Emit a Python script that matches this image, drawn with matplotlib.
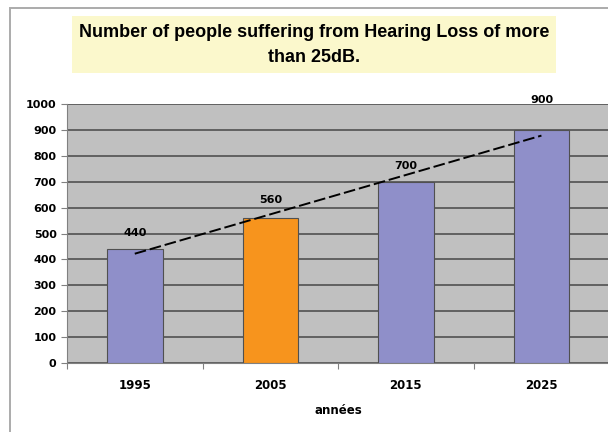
import numpy as np
import matplotlib
matplotlib.use("Agg")
import matplotlib.pyplot as plt
from matplotlib.patches import Rectangle

years = ["1995", "2005", "2015", "2025"]
people = [440, 560, 700, 900]
bar_colors = ["#8F8FC9", "#F7941D", "#8F8FC9", "#8F8FC9"]
label_offsets = [8, 9, 7.5, 18]  # points above bar top

plt.rcParams['font.family'] = ['DejaVu Sans']

fig = plt.figure(figsize=(6.08, 4.32), dpi=100)

# outer chart frame
fig.patches.append(Rectangle((10 / 608, -0.1), 1.2, 1 - 8 / 432 + 0.1,
                             transform=fig.transFigure, fill=False,
                             edgecolor="#ABABAB", linewidth=1.4))

ax = fig.add_axes([67 / 608, 1 - 363 / 432, 1 - 67 / 608 + 0.002, (363 - 104) / 432])
ax.set_facecolor("#C0C0C0")

x = np.arange(len(years))
ax.bar(x, people, width=0.41, color=bar_colors, edgecolor="#505050", linewidth=0.8, zorder=3)

# linear trend
k, b = np.polyfit(x, people, 1)
ax.plot(x, k * x + b, color="black", linestyle=(0, (6, 2)), linewidth=1.4, zorder=4)

for xi, v, off in zip(x, people, label_offsets):
    ax.annotate(str(v), (xi, v), xytext=(0, off), textcoords="offset points",
                ha="center", va="bottom", fontsize=8, fontweight="bold", zorder=5)

ax.set_xlim(-0.5, 3.5)
ax.set_ylim(0, 1000)
ax.set_yticks(range(0, 1001, 100))
ax.tick_params(axis="y", labelsize=8, length=4, width=0.8, color="#808080")
for lab in ax.get_yticklabels():
    lab.set_fontweight("bold")
ax.grid(axis="y", color="#5A5A5A", linewidth=1.3, zorder=1)

ax.set_xticks(x)
ax.set_xticklabels(years, fontsize=8.5, fontweight="bold")
ax.set_xticks(np.arange(-0.5, 3.6, 1), minor=True)
ax.tick_params(axis="x", which="major", length=0, pad=11.5)
ax.tick_params(axis="x", which="minor", length=4, width=0.8, color="#808080")
ax.set_xlabel("années", fontsize=8.5, fontweight="bold", labelpad=9)

for s in ["top", "right"]:
    ax.spines[s].set_visible(False)
ax.spines["left"].set_color("#808080")
ax.spines["bottom"].set_color("#808080")

# title box
fig.patches.append(Rectangle((72 / 608, 1 - 73 / 432), (556 - 72) / 608, (73 - 16) / 432,
                             transform=fig.transFigure, facecolor="#FBF8CC",
                             edgecolor="none"))
fig.text(314 / 608, 1 - 45 / 432,
         "Number of people suffering from Hearing Loss of more\nthan 25dB.",
         ha="center", va="center", fontsize=13, fontweight="bold", linespacing=1.55,
         family="Liberation Sans")

fig.savefig("out.png", dpi=100)
